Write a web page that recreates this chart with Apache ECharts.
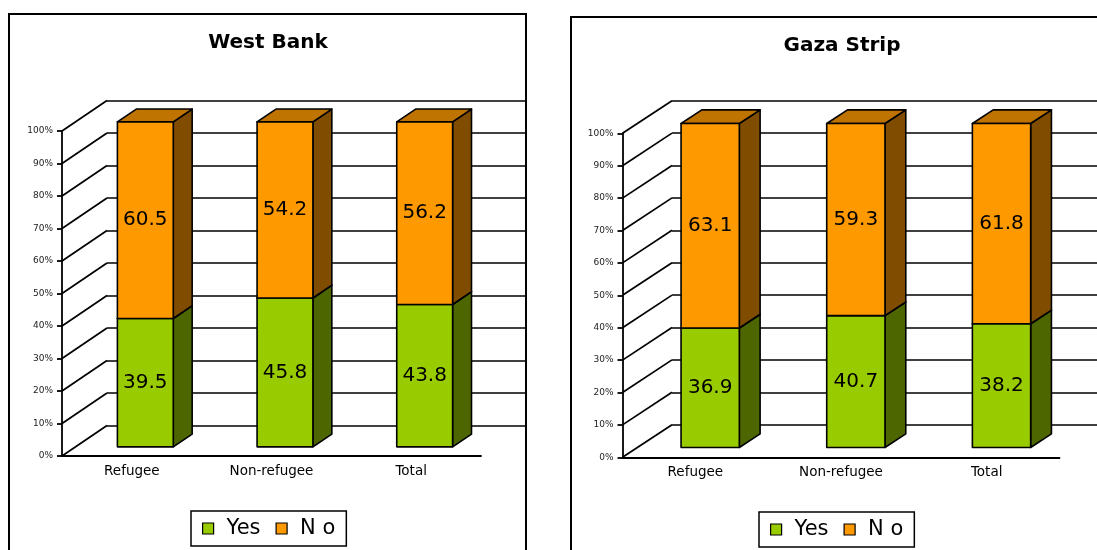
<!DOCTYPE html>
<html>
<head>
<meta charset="utf-8">
<title>West Bank / Gaza Strip</title>
<script src="https://cdn.jsdelivr.net/npm/echarts@6.0.0/dist/echarts.min.js"></script>
<style>
    html, body { margin: 0; padding: 0; background: #fff; }
    #main { width: 1097px; height: 550px; }
</style>
</head>
<body>
<div id="main"></div>
<script>
// data
var categories = ['Refugee', 'Non-refugee', 'Total'];
var yTicks = [0, 10, 20, 30, 40, 50, 60, 70, 80, 90, 100];
var westYes = [39.5, 45.8, 43.8];
var westNo = [60.5, 54.2, 56.2];
var gazaYes = [36.9, 40.7, 38.2];
var gazaNo = [63.1, 59.3, 61.8];

var FONT = 'DejaVu Sans';
// front, side, top
var GREEN = ['#99cc00', '#4d6600', '#739900'];
var ORANGE = ['#ff9900', '#804d00', '#bf7300'];

// layout of the two panels
var panels = [
    {
        title: 'West Bank', tx: 268, ty: 43, box: [9, 14, 517, 580],
        left: 62, top: 131, width: 419, height: 325, dx: 45, dy: -30.5,
        yes: westYes, no: westNo, legend: [191, 511]
    },
    {
        title: 'Gaza Strip', tx: 842, ty: 46, box: [571, 17, 600, 580],
        left: 622.5, top: 133.3, width: 437, height: 324, dx: 49.5, dy: -32.6,
        yes: gazaYes, no: gazaNo, legend: [759, 512]
    }
];

//3D柱子
function bar3d(p, colors) {
    return function (params, api) {
        var c = api.value(0), lo = api.value(1), hi = api.value(2), val = api.value(3);
        var band = api.size([1, 0])[0];
        var w = band * 0.4;
        var pLo = api.coord([c, lo]);
        var pHi = api.coord([c, hi]);
        var ox = p.dx * 0.3, oy = p.dy * 0.3;
        var sx = p.dx * 0.42, sy = p.dy * 0.42;
        var x0 = pLo[0] - w / 2 + ox, x1 = x0 + w;
        var yB = pLo[1] + oy, yT = pHi[1] + oy;
        var stroke = {stroke: '#000', lineWidth: 1.6, lineJoin: 'round'};
        return {
            type: 'group',
            children: [
                {
                    type: 'polygon',
                    shape: {points: [[x1, yB], [x1 + sx, yB + sy], [x1 + sx, yT + sy], [x1, yT]]},
                    style: Object.assign({fill: colors[1]}, stroke)
                },
                {
                    type: 'polygon',
                    shape: {points: [[x0, yT], [x1, yT], [x1 + sx, yT + sy], [x0 + sx, yT + sy]]},
                    style: Object.assign({fill: colors[2]}, stroke)
                },
                {
                    type: 'polygon',
                    shape: {points: [[x0, yB], [x1, yB], [x1, yT], [x0, yT]]},
                    style: Object.assign({fill: colors[0]}, stroke)
                },
                {
                    type: 'text',
                    x: (x0 + x1) / 2,
                    y: (yB + yT) / 2,
                    style: {
                        text: val.toFixed(1),
                        align: 'center',
                        verticalAlign: 'middle',
                        fontSize: 20,
                        fontFamily: FONT,
                        fill: '#000'
                    }
                }
            ]
        };
    };
}

var option = {
    animation: false,
    backgroundColor: '#fff',
    textStyle: {fontFamily: FONT},
    grid: [],
    xAxis: [],
    yAxis: [],
    series: [],
    legend: [],
    graphic: []
};

panels.forEach(function (p, k) {
    var f = 2 * k, b = 2 * k + 1;

    option.graphic.push({
        type: 'rect',
        shape: {x: p.box[0], y: p.box[1], width: p.box[2], height: p.box[3]},
        style: {fill: 'none', stroke: '#000', lineWidth: 2},
        silent: true
    });
    option.graphic.push({
        type: 'text',
        x: p.tx,
        y: p.ty,
        style: {
            text: p.title,
            align: 'center',
            verticalAlign: 'middle',
            fontSize: 20,
            fontWeight: 'bold',
            fontFamily: FONT,
            fill: '#000'
        }
    });

    // front plane and back wall
    option.grid.push({left: p.left, top: p.top, width: p.width, height: p.height});
    option.grid.push({left: p.left + p.dx, top: p.top + p.dy, width: p.width, height: p.height});

    option.xAxis.push({
        gridIndex: f,
        type: 'category',
        data: categories,
        axisLine: {lineStyle: {color: '#000', width: 1.8}},
        axisTick: {length: 5, lineStyle: {color: '#000', width: 1.8}},
        axisLabel: {color: '#000', fontSize: 13.5, margin: 8, fontFamily: FONT},
        splitLine: {show: false}
    });
    option.xAxis.push({gridIndex: b, type: 'category', data: categories, show: false});

    option.yAxis.push({
        gridIndex: f,
        type: 'value',
        min: 0,
        max: 100,
        interval: 10,
        axisLine: {show: true, lineStyle: {color: '#000', width: 1.8}},
        axisTick: {show: true, length: 5, lineStyle: {color: '#000', width: 1.8}},
        axisLabel: {formatter: '{value}%', fontSize: 9, color: '#222', margin: 9, fontFamily: FONT},
        splitLine: {show: false}
    });
    option.yAxis.push({
        gridIndex: b,
        type: 'value',
        min: 0,
        max: 100,
        interval: 10,
        axisLine: {show: false},
        axisTick: {show: false},
        axisLabel: {show: false},
        splitLine: {show: true, lineStyle: {color: '#000', width: 1.7}}
    });

    // side wall lines
    option.series.push({
        type: 'custom',
        xAxisIndex: f,
        yAxisIndex: f,
        silent: true,
        z: 1,
        data: yTicks.map(function (v) { return [0, v]; }),
        encode: {x: 0, y: 1},
        renderItem: function (params, api) {
            var pt = api.coord([0, api.value(1)]);
            var x0 = pt[0] - api.size([1, 0])[0] / 2;
            return {
                type: 'line',
                shape: {x1: x0, y1: pt[1], x2: x0 + p.dx, y2: pt[1] + p.dy},
                style: {stroke: '#000', lineWidth: 1.7}
            };
        }
    });

    option.series.push({
        type: 'custom',
        name: 'Yes',
        xAxisIndex: f,
        yAxisIndex: f,
        z: 3,
        itemStyle: {color: GREEN[0]},
        data: p.yes.map(function (v, i) { return [i, 0, v, v]; }),
        encode: {x: 0, y: [1, 2]},
        renderItem: bar3d(p, GREEN)
    });
    option.series.push({
        type: 'custom',
        name: 'N o',
        xAxisIndex: f,
        yAxisIndex: f,
        z: 4,
        itemStyle: {color: ORANGE[0]},
        data: p.no.map(function (v, i) { return [i, p.yes[i], p.yes[i] + v, v]; }),
        encode: {x: 0, y: [1, 2]},
        renderItem: bar3d(p, ORANGE)
    });

    option.legend.push({
        data: ['Yes', 'N o'],
        left: p.legend[0],
        top: p.legend[1],
        orient: 'horizontal',
        icon: 'rect',
        itemWidth: 11,
        itemHeight: 11,
        itemGap: 15,
        padding: [7, 11, 7, 11],
        borderColor: '#000',
        borderWidth: 1.5,
        selectedMode: false,
        itemStyle: {borderColor: '#000', borderWidth: 1.2},
        textStyle: {fontSize: 21, color: '#000', fontFamily: FONT, padding: [0, 0, 0, 8]}
    });
});

var chart = echarts.init(document.getElementById('main'));
chart.setOption(option);
</script>
</body>
</html>
